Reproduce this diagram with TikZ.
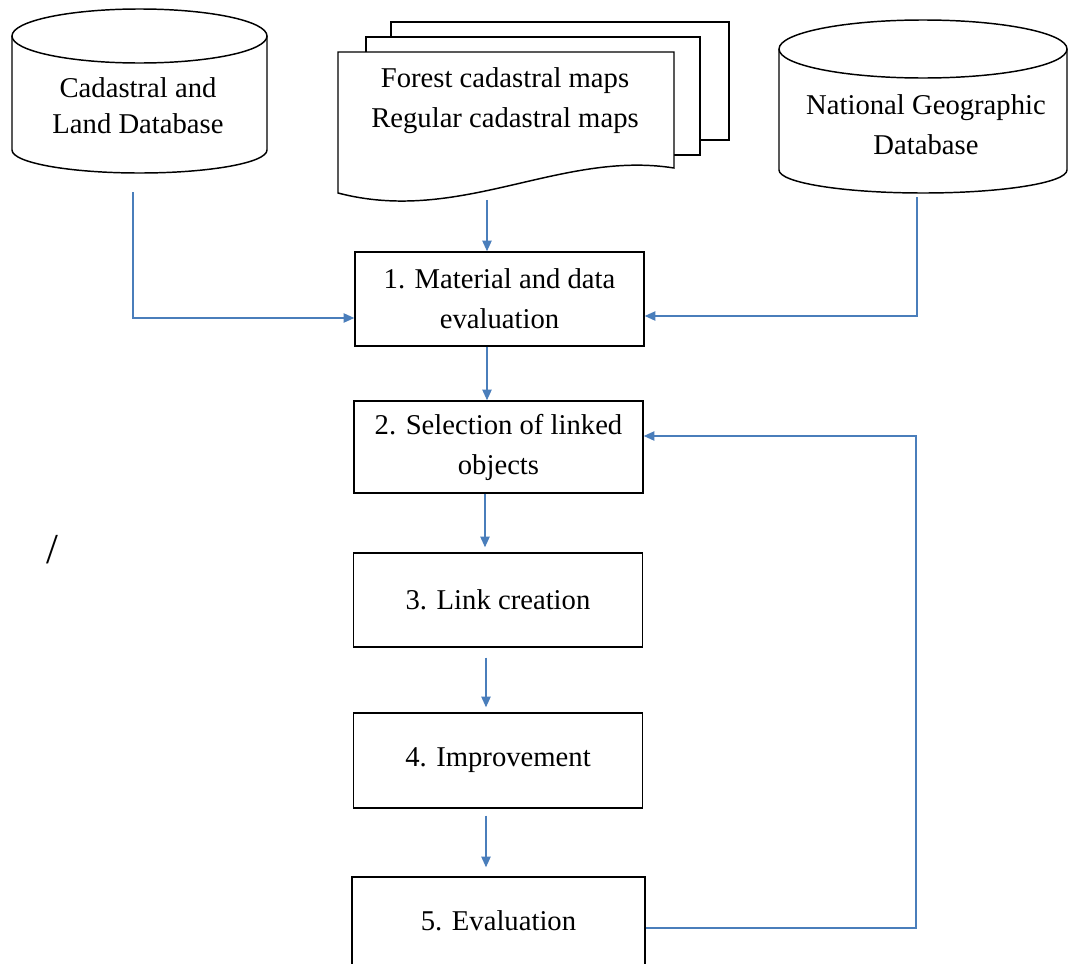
\documentclass[tikz,border=0pt]{standalone}
\usepackage{fontspec}
\setmainfont{Liberation Serif}
\usetikzlibrary{arrows.meta}
\definecolor{flowblue}{RGB}{74,126,187}
\begin{document}
\begin{tikzpicture}[x=0.75pt,y=-0.75pt,
  shapeline/.style={draw=black, line width=1.1pt},
  txt/.style={font=\fontsize{21.5}{30}\selectfont, align=center, inner sep=0pt},
  stepbox/.style={shapeline, fill=white, minimum width=216.75pt, font=\fontsize{21.5}{30}\selectfont, align=center, inner sep=0pt},
  link/.style={draw=flowblue, line width=1pt},
  flow/.style={link, -{Triangle[length=8pt,width=7pt]}}]
\clip (0,0) rectangle (1068,964);
\fill[white] (0,0) rectangle (1068,964);

% left cylinder
\draw[shapeline] (12,36) -- (12,150) arc[start angle=180, end angle=0, x radius=127.5, y radius=23] -- (267,36);
\draw[shapeline] (139.5,36) ellipse [x radius=127.5, y radius=27];
\node[txt, font=\fontsize{21.5}{27}\selectfont] (c1) at (138,106) {Cadastral and\\Land Database};

% right cylinder
\draw[shapeline] (779,49) -- (779,170) arc[start angle=180, end angle=0, x radius=144, y radius=23] -- (1067,49);
\draw[shapeline] (923,49) ellipse [x radius=144, y radius=29];
\node[txt] (c3) at (926,125) {National Geographic\\Database};

% multi-document
\draw[shapeline, fill=white] (391,22) rectangle (729,140);
\draw[shapeline, fill=white] (366,37) rectangle (700,155);
\draw[shapeline, fill=white] (338,193) -- (338,52) -- (674,52) -- (674,168) .. controls (560,150) and (460,225) .. (338,193) -- cycle;
\node[txt] (docs) at (505,100.5) {Forest cadastral maps\\Regular cadastral maps};

% process boxes
\node[stepbox, minimum height=70.5pt] (b1) at (499.5,299) {1. Material and data\\evaluation};
\node[stepbox, minimum height=69pt] (b2) at (498.5,447) {2. Selection of linked\\objects};
\node[stepbox, minimum height=70.5pt] (b3) at (498,600) {3. Link creation};
\node[stepbox, minimum height=71.25pt] (b4) at (498,760.5) {4. Improvement};
\node[stepbox, minimum width=219.75pt, minimum height=66pt] (b5) at (498.5,921) {5. Evaluation};

\node[inner sep=0pt, font=\fontsize{32}{32}\selectfont] (slash) at (52,550) {/};

% connectors
\coordinate (c1out) at (133,192);
\coordinate (c1turn) at (133,318);
\draw[flow] (c1out) -- (c1turn) -- (c1turn -| b1.west);
\coordinate (c3out) at (917,197);
\coordinate (c3turn) at (917,316);
\draw[flow] (c3out) -- (c3turn) -- (c3turn -| b1.east);
\coordinate (dout) at (487,200);
\draw[flow] (dout) -- (dout |- b1.north);
\draw[flow] (b1.south -| dout) -- (b2.north -| dout);
\coordinate (ax) at (485,500);
\draw[flow, shorten >=3.75pt] (b2.south -| ax) -- (b3.north -| ax);
\coordinate (bx) at (486,650);
\draw[flow, shorten <=7.5pt, shorten >=3.75pt] (b3.south -| bx) -- (b4.north -| bx);
\draw[flow, shorten <=5.25pt, shorten >=6.75pt] (b4.south -| bx) -- (b5.north -| bx);
\coordinate (fb1) at (916,928);
\coordinate (fb2) at (916,436);
\draw[flow] (fb1 -| b5.east) -- (fb1) -- (fb2) -- (fb2 -| b2.east);
\end{tikzpicture}
\end{document}
